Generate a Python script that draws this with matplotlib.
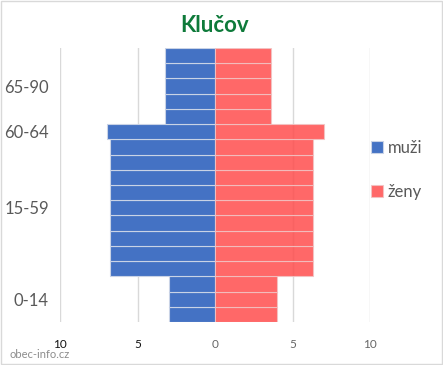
import numpy as np
import matplotlib
matplotlib.use("Agg")
import matplotlib.pyplot as plt
from matplotlib.patches import Rectangle

# one row per bar, bottom to top
muzi = [3.0, 3.0, 3.0,
        6.8, 6.8, 6.8, 6.8, 6.8, 6.8, 6.8, 6.8, 6.8,
        7.0,
        3.2, 3.2, 3.2, 3.2, 3.2]
zeny = [4.0, 4.0, 4.0,
        6.3, 6.3, 6.3, 6.3, 6.3, 6.3, 6.3, 6.3, 6.3,
        7.0,
        3.6, 3.6, 3.6, 3.6, 3.6]
group_labels = ['0-14', '15-59', '60-64', '65-90']
group_sizes = [3, 9, 1, 5]
x_ticks = [-10, -5, 0, 5, 10]
x_ticklabels = ['10', '5', '0', '5', '10']

plt.rcParams['font.family'] = ['Lato', 'DejaVu Sans']

fig = plt.figure(figsize=(4.43, 3.65), dpi=100)
ax = fig.add_axes([60 / 443, 43 / 365, 310 / 443, 274 / 365])

y = np.arange(len(muzi))
ax.barh(y, -np.array(muzi), height=1.0, color='#4472c4', edgecolor='#c9d3e6',
        linewidth=0.8, zorder=2, label='muži')
ax.barh(y, zeny, height=1.0, color='#ff4d4d', alpha=0.85, edgecolor='#f2c4c4',
        linewidth=0.8, zorder=3, label='ženy')

ax.set_xlim(-10, 10)
ax.set_ylim(-0.5, len(muzi) - 0.5)
ax.set_xticks(x_ticks)
ax.set_xticklabels(x_ticklabels, fontsize=8.5)
for lbl, c in zip(ax.get_xticklabels(), ['#111111', '#111111', '#666666', '#666666', '#666666']):
    lbl.set_color(c)

centers = []
start = 0
for n in group_sizes:
    centers.append(start + (n - 1) / 2)
    start += n
ax.set_yticks(centers)
ax.set_yticklabels(group_labels, fontsize=12, color='#595959')

ax.grid(axis='x', color='#d9d9d9', linewidth=1, zorder=0)
ax.set_axisbelow(True)
for s in ax.spines.values():
    s.set_visible(False)
ax.tick_params(length=0, pad=12)
ax.tick_params(axis='y', pad=8)

fig.text(215 / 443, 1 - 25 / 365, 'Klučov', ha='center', va='center',
         fontsize=16, fontweight='bold', color='#0e7a3a')

ax.legend(loc='center left', bbox_to_anchor=(0.955, 0.555), frameon=False,
          fontsize=12, handlelength=0.7, handleheight=0.7, labelspacing=1.7,
          handletextpad=0.3, labelcolor='#595959')

fig.text(10 / 443, 1 - 354 / 365, 'obec-info.cz', ha='left', va='center',
         fontsize=8, color='#8c8c8c')

fig.patches.append(Rectangle((0.002, 0.002), 0.996, 0.996, transform=fig.transFigure,
                             fill=False, edgecolor='#d9d9d9', linewidth=1))

fig.savefig('out.png', dpi=100)
